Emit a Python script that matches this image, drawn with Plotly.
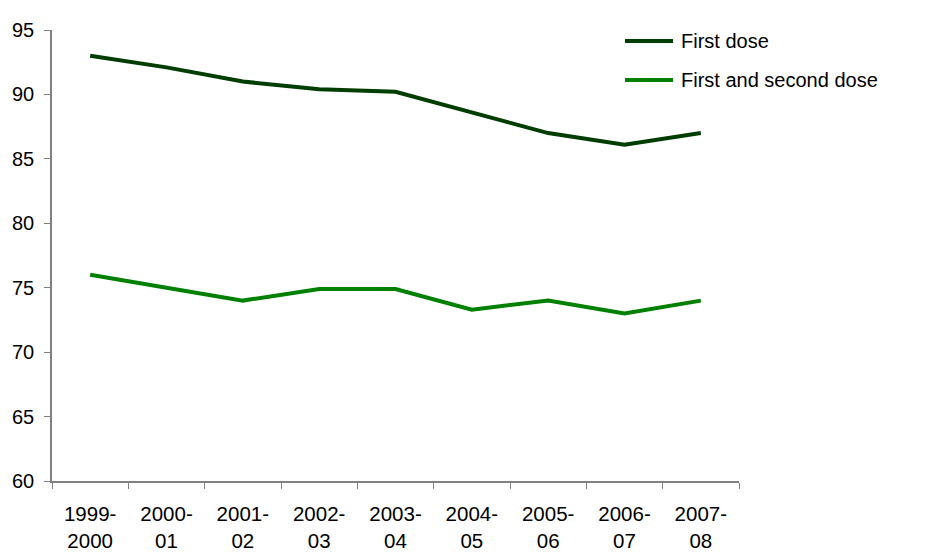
import plotly.graph_objects as go

# School years and uptake percentages
years = ["1999-<br>2000", "2000-<br>01", "2001-<br>02", "2002-<br>03", "2003-<br>04",
         "2004-<br>05", "2005-<br>06", "2006-<br>07", "2007-<br>08"]
first_dose = [93.0, 92.1, 91.0, 90.4, 90.2, 88.6, 87.0, 86.1, 87.0]
first_and_second = [76.0, 75.0, 74.0, 74.9, 74.9, 73.3, 74.0, 73.0, 74.0]
y_ticks = [60, 65, 70, 75, 80, 85, 90, 95]

series = [("First dose", first_dose, "#003d00"),
          ("First and second dose", first_and_second, "#008000")]

FONT = "Liberation Sans, Arial, sans-serif"
W, H = 928, 552
L, R, T, B = 52, 189, 30, 71
plot_w, plot_h = W - L - R, H - T - B


def px_x(p):
    return (p - L) / plot_w


def px_y(p):
    return (H - B - p) / plot_h


fig = go.Figure()
for name, vals, color in series:
    fig.add_trace(go.Scatter(x=years, y=vals, mode="lines", name=name,
                             line=dict(color=color, width=4)))

# Legend drawn as sample lines with labels, top right, without shifting the plot area
for i, (name, _, color) in enumerate(series):
    ly = px_y(41 + 39 * i)
    fig.add_shape(type="line", xref="paper", yref="paper",
                  x0=px_x(625), x1=px_x(673), y0=ly, y1=ly,
                  line=dict(color=color, width=4))
    fig.add_annotation(xref="paper", yref="paper", x=px_x(679), y=ly,
                       xanchor="left", yanchor="middle", showarrow=False,
                       text=name, font=dict(size=20, family=FONT, color="black"))

fig.update_layout(
    width=W, height=H,
    margin=dict(l=L, r=R, t=T, b=B),
    plot_bgcolor="white", paper_bgcolor="white",
    font=dict(family=FONT, size=20, color="black"),
    showlegend=False,
    xaxis=dict(type="category", range=[-0.5, len(years) - 0.5], automargin=False,
               showline=True, linecolor="#808080", linewidth=1.5,
               ticks="outside", tickson="boundaries", ticklen=6, tickcolor="#808080",
               showgrid=False, ticklabelstandoff=14, tickfont=dict(size=20.5)),
    yaxis=dict(range=[60, 95], tickvals=y_ticks, automargin=False,
               showline=True, linecolor="#808080",
               linewidth=1.5, ticks="outside", ticklen=6, tickcolor="#808080",
               showgrid=False, zeroline=False, ticklabelstandoff=6,
               tickfont=dict(size=20)),
)

fig.write_html("out.html")
